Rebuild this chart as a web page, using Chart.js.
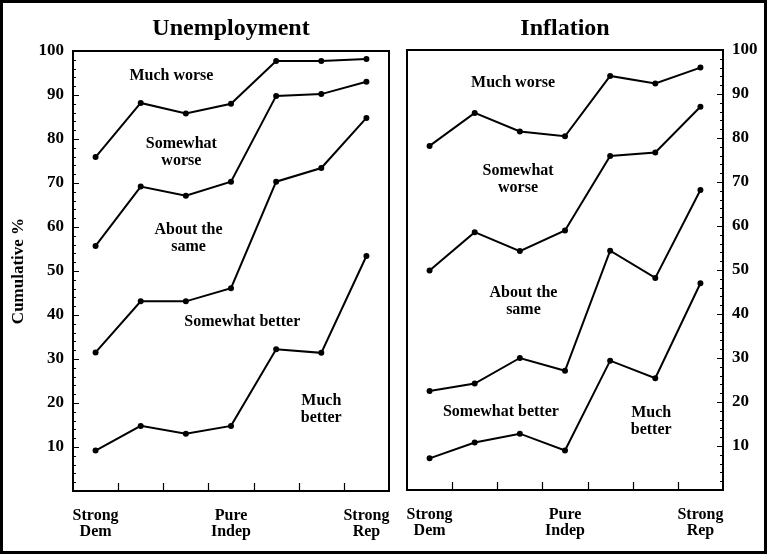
<!DOCTYPE html>
<html>
<head>
<meta charset="utf-8">
<script src="https://cdn.jsdelivr.net/npm/chart.js@4.4.1/dist/chart.umd.min.js"></script>
<style>
  html, body { margin: 0; padding: 0; background: #fff; }
  #wrap { position: relative; width: 767px; height: 554px; overflow: hidden; background: #fff; }
  #wrap canvas { position: absolute; top: 0; }
  #unempChart { left: 0; }
  #inflChart { left: 398px; }
  #border { position: absolute; inset: 0; border: 3px solid #000; pointer-events: none; }
</style>
</head>
<body>
<div id="wrap">
  <canvas id="unempChart" width="398" height="554"></canvas>
  <canvas id="inflChart" width="369" height="554"></canvas>
  <div id="border"></div>
</div>
<script>
// Party identification, strong Democrat -> strong Republican
const categories = [['Strong', 'Dem'], '', '', ['Pure', 'Indep'], '', '', ['Strong', 'Rep']];
const yTicks = [10, 20, 30, 40, 50, 60, 70, 80, 90, 100];

// Unemployment: cumulative % up to each answer (from "much better" upwards)
const unempMuchBetter     = [9.2, 14.8, 13.0, 14.8, 32.2, 31.4, 53.4];
const unempSomewhatBetter = [31.5, 43.1, 43.1, 46.1, 70.3, 73.4, 84.8];
const unempSame           = [55.7, 69.2, 67.1, 70.3, 89.8, 90.2, 93.0];
const unempSomewhatWorse  = [75.9, 88.2, 85.8, 88.0, 97.7, 97.7, 98.2];

// Inflation
const inflMuchBetter     = [7.2, 10.8, 12.8, 9.0, 29.4, 25.4, 47.0];
const inflSomewhatBetter = [22.5, 24.2, 30.0, 27.1, 54.4, 48.2, 68.2];
const inflSame           = [49.9, 58.6, 54.3, 59.0, 75.9, 76.7, 87.1];
const inflSomewhatWorse  = [78.2, 85.7, 81.5, 80.4, 94.1, 92.4, 96.0];

// Region names written inside each panel (x in category units, y in %)
const unempNotes = [
  { text: 'Much worse', x: 1.68, y: 94.3 },
  { text: 'Somewhat\nworse', x: 1.9, y: 77.0 },
  { text: 'About the\nsame', x: 2.06, y: 57.4 },
  { text: 'Somewhat better', x: 3.25, y: 38.4 },
  { text: 'Much\nbetter', x: 5.0, y: 18.5 }
];
const inflNotes = [
  { text: 'Much worse', x: 1.85, y: 92.5 },
  { text: 'Somewhat\nworse', x: 1.96, y: 70.7 },
  { text: 'About the\nsame', x: 2.08, y: 42.9 },
  { text: 'Somewhat better', x: 1.58, y: 17.7 },
  { text: 'Much\nbetter', x: 4.91, y: 15.6 }
];

const serif = "'Liberation Serif', 'DejaVu Serif', serif";

// frame, inward ticks, heading and region labels
const panelDecor = {
  id: 'panelDecor',
  afterDraw(chart, args, opts) {
    const { ctx, chartArea: a, scales: { x, y } } = chart;
    ctx.save();
    ctx.strokeStyle = '#000';
    ctx.lineWidth = 2;
    ctx.strokeRect(a.left, a.top, a.right - a.left, a.bottom - a.top);

    ctx.lineWidth = 1.2;
    ctx.beginPath();
    for (let i = 1; i < categories.length; i++) {
      const px = Math.round(x.getPixelForValue(i - 0.5)) + 0.5;
      ctx.moveTo(px, a.bottom);
      ctx.lineTo(px, a.bottom - 8);
    }
    const edge = opts.side === 'right' ? a.right : a.left;
    const dir = opts.side === 'right' ? -1 : 1;
    for (let v = 2; v < 100; v += 2) {
      const py = Math.round(y.getPixelForValue(v)) + 0.5;
      const len = v % 10 === 0 ? 6 : 3;
      ctx.moveTo(edge, py);
      ctx.lineTo(edge + dir * len, py);
    }
    ctx.stroke();

    ctx.fillStyle = '#000';
    ctx.textAlign = 'center';
    ctx.textBaseline = 'alphabetic';
    ctx.font = 'bold 24px ' + serif;
    ctx.fillText(opts.heading, (a.left + a.right) / 2, 35);

    ctx.textBaseline = 'middle';
    ctx.font = 'bold 16px ' + serif;
    opts.notes.forEach(n => {
      const lines = n.text.split('\n');
      const cx = x.getPixelForValue(n.x);
      const cy = y.getPixelForValue(n.y);
      lines.forEach((t, k) => {
        ctx.fillText(t, cx, cy + (k - (lines.length - 1) / 2) * 17);
      });
    });
    ctx.restore();
  }
};

function lineSet(data) {
  return {
    data: data,
    borderColor: '#000',
    borderWidth: 2,
    pointRadius: 2,
    pointBackgroundColor: '#000',
    pointBorderColor: '#000',
    tension: 0,
    fill: false
  };
}

function makeChart(id, side, heading, notes, series, pad, axisW, axisH) {
  const xFont = { family: serif, size: 16, weight: 'bold', lineHeight: 1.05 };
  const yFont = { family: serif, size: 17, weight: 'bold' };
  return new Chart(document.getElementById(id), {
    type: 'line',
    data: {
      labels: categories,
      datasets: series.map(lineSet)
    },
    options: {
      responsive: false,
      animation: false,
      layout: { padding: pad },
      plugins: {
        legend: { display: false },
        tooltip: { enabled: false },
        panelDecor: { side: side, heading: heading, notes: notes }
      },
      scales: {
        x: {
          type: 'category',
          offset: true,
          grid: { display: false, drawTicks: false },
          border: { display: false },
          ticks: { autoSkip: false, maxRotation: 0, padding: 16, color: '#000', font: xFont },
          afterFit(s) {
            s.height = axisH;
            s.paddingLeft = 0;
            s.paddingRight = 0;
          }
        },
        y: {
          position: side,
          min: 0,
          max: 100,
          grid: { display: false, drawTicks: false },
          border: { display: false },
          afterBuildTicks(s) { s.ticks = yTicks.map(v => ({ value: v })); },
          ticks: { padding: 9, color: '#000', font: yFont },
          title: {
            display: side === 'left',
            text: 'Cumulative %',
            color: '#000',
            padding: { top: 8, bottom: 0 },
            font: { family: serif, size: 17, weight: 'bold' }
          },
          afterFit(s) {
            s.width = axisW;
            s.paddingTop = 0;
            s.paddingBottom = 0;
          }
        }
      }
    },
    plugins: [panelDecor]
  });
}

makeChart('unempChart', 'left', 'Unemployment', unempNotes,
  [unempSomewhatWorse, unempSame, unempSomewhatBetter, unempMuchBetter],
  { top: 51, right: 9, bottom: 0, left: 0 }, 73, 63);

makeChart('inflChart', 'right', 'Inflation', inflNotes,
  [inflSomewhatWorse, inflSame, inflSomewhatBetter, inflMuchBetter],
  { top: 50, right: 0, bottom: 0, left: 9 }, 44, 64);
</script>
</body>
</html>
